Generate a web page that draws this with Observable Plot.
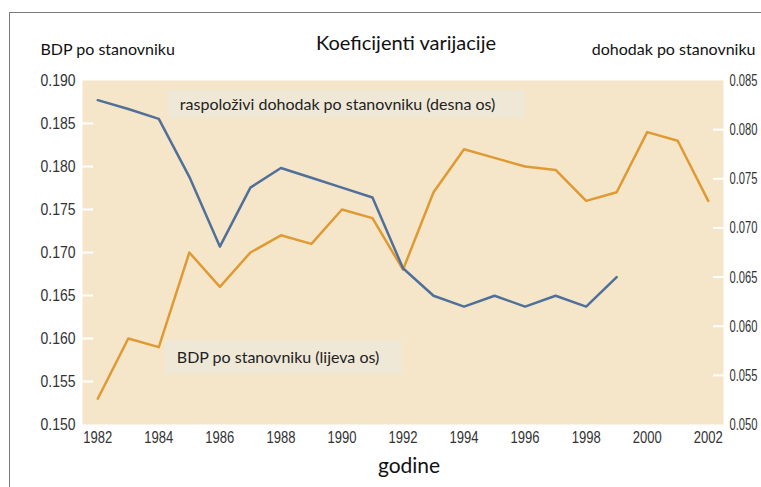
<!DOCTYPE html>
<html>
<head>
<meta charset="utf-8">
<script src="https://cdn.jsdelivr.net/npm/d3@7"></script>
<script src="https://cdn.jsdelivr.net/npm/@observablehq/plot@0.6"></script>
<style>
  body { margin: 0; background: white; }
  #wrap { position: relative; width: 761px; height: 487px; overflow: hidden; }
  #border { position: absolute; left: 9px; top: 12px; width: 800px; height: 600px;
            border-top: 1px solid #7a7a7a; border-left: 1px solid #7a7a7a; pointer-events: none; }
</style>
</head>
<body>
<div id="wrap"><div id="border"></div></div>
<script>
const years = [1982,1983,1984,1985,1986,1987,1988,1989,1990,1991,1992,1993,1994,1995,1996,1997,1998,1999,2000,2001,2002];
const bdp = [0.153,0.160,0.159,0.170,0.166,0.170,0.172,0.171,0.175,0.174,0.168,0.177,0.182,0.181,0.180,0.1796,0.176,0.177,0.184,0.183,0.176];
const incomeYears = [1982,1983,1984,1985,1986,1987,1988,1989,1990,1991,1992,1993,1994,1995,1996,1997,1998,1999];
const income = [0.0830,0.0821,0.0811,0.0752,0.0681,0.0741,0.0761,0.0751,0.0741,0.0731,0.0659,0.0631,0.0620,0.0631,0.0620,0.0631,0.0620,0.0650];
const xTicks = [1982,1984,1986,1988,1990,1992,1994,1996,1998,2000,2002];
const leftTicks = [0.150,0.155,0.160,0.165,0.170,0.175,0.180,0.185,0.190];
const rightTicks = [0.050,0.055,0.060,0.065,0.070,0.075,0.080,0.085];
const leftDomain = [0.150, 0.190];
const rightDomain = [0.050, 0.085];
const title = "Koeficijenti varijacije";
const leftTitle = "BDP po stanovniku";
const rightTitle = "dohodak po stanovniku";
const xTitle = "godine";
const notes = [
  {label: "raspoloživi dohodak po stanovniku (desna os)", x1: 1984.30, x2: 1996.02, y1: 0.18558, y2: 0.18884, tx: 1984.69, ty: 0.18721},
  {label: "BDP po stanovniku (lijeva os)", x1: 1984.20, x2: 1991.98, y1: 0.15581, y2: 0.15977, tx: 1984.59, ty: 0.15779}
];

// map right-axis values onto the left scale
const toLeft = v => leftDomain[0] + (v - rightDomain[0]) * (leftDomain[1] - leftDomain[0]) / (rightDomain[1] - rightDomain[0]);
const fromLeft = u => rightDomain[0] + (u - leftDomain[0]) * (rightDomain[1] - rightDomain[0]) / (leftDomain[1] - leftDomain[0]);

const bdpData = years.map((y, i) => ({year: y, v: bdp[i]}));
const incData = incomeYears.map((y, i) => ({year: y, v: toLeft(income[i])}));

const textFont = "Lato, 'Open Sans', sans-serif";
const tickFont = "'Liberation Sans', Arial, sans-serif";
const fmt = d3.format(".3f");

const innerLeft = leftTicks.slice(1, -1);
const innerRight = rightTicks.slice(1, -1).map(toLeft);

const chart = Plot.plot({
  width: 761,
  height: 487,
  marginLeft: 82,
  marginRight: 38,
  marginTop: 80,
  marginBottom: 63,
  x: {domain: [1981.5, 2002.5], axis: null},
  y: {domain: leftDomain, axis: null},
  style: {background: "transparent", fontFamily: textFont, fontSize: "14px", color: "#333"},
  marks: [
    Plot.frame({fill: "#f5e6c9", stroke: "none"}),
    // white inner ticks
    Plot.axisY(innerLeft, {anchor: "left", tickSize: 11, dx: 11, stroke: "white", strokeWidth: 2, fill: "none", label: null}),
    Plot.axisY(innerRight, {anchor: "right", tickSize: 11, dx: -11, stroke: "white", strokeWidth: 2, fill: "none", label: null}),
    // tick labels
    Plot.axisY(leftTicks, {anchor: "left", tickSize: 0, tickPadding: 7, tickFormat: fmt, label: null, fill: "#333", fontSize: 17, fontFamily: tickFont}),
    Plot.axisY(rightTicks.map(toLeft), {anchor: "right", tickSize: 0, tickPadding: 6, tickFormat: d => fmt(fromLeft(d)), label: null, fill: "#333", fontSize: 17, fontFamily: tickFont}),
    Plot.axisX(xTicks, {anchor: "bottom", tickSize: 0, tickPadding: 6, tickFormat: d => String(d), label: null, fill: "#333", fontSize: 17, fontFamily: tickFont}),
    // annotation boxes
    Plot.rect(notes, {x1: "x1", x2: "x2", y1: "y1", y2: "y2", fill: "#efe8d7"}),
    Plot.text(notes, {x: "tx", y: "ty", text: "label", textAnchor: "start", fontFamily: textFont, fontSize: 16, letterSpacing: "0.5px", fill: "#222"}),
    // lines
    Plot.line(bdpData, {x: "year", y: "v", stroke: "#e09a33", strokeWidth: 2.5}),
    Plot.line(incData, {x: "year", y: "v", stroke: "#50709a", strokeWidth: 2.5}),
    // titles
    Plot.text([title], {frameAnchor: "top", dx: 3, dy: -45, fontFamily: textFont, fontSize: 20, letterSpacing: "0.4px", fill: "#111"}),
    Plot.text([leftTitle], {frameAnchor: "top-left", textAnchor: "start", dx: -42, dy: -37, fontFamily: textFont, fontSize: 16, letterSpacing: "0.2px", fill: "#111"}),
    Plot.text([rightTitle], {frameAnchor: "top-right", textAnchor: "end", dx: 32, dy: -37, fontFamily: textFont, fontSize: 16, letterSpacing: "0.3px", fill: "#111"}),
    Plot.text([xTitle], {frameAnchor: "bottom", dx: 6, dy: 48, fontFamily: textFont, fontSize: 21, letterSpacing: "0.3px", fill: "#111"})
  ]
});
// condensed look of the tick labels
const sel = d3.select(chart);
sel.selectAll('g[aria-label="y-axis tick label"]').each(function () {
  const g = d3.select(this);
  const isRight = g.attr("text-anchor") === "start";
  g.selectAll("text").attr("textLength", isRight ? 28 : 35).attr("lengthAdjust", "spacingAndGlyphs");
});
sel.selectAll('g[aria-label="x-axis tick label"] text').attr("textLength", 29).attr("lengthAdjust", "spacingAndGlyphs");
document.getElementById("wrap").appendChild(chart);
chart.style.position = "absolute";
chart.style.left = "0px";
chart.style.top = "0px";
</script>
</body>
</html>
